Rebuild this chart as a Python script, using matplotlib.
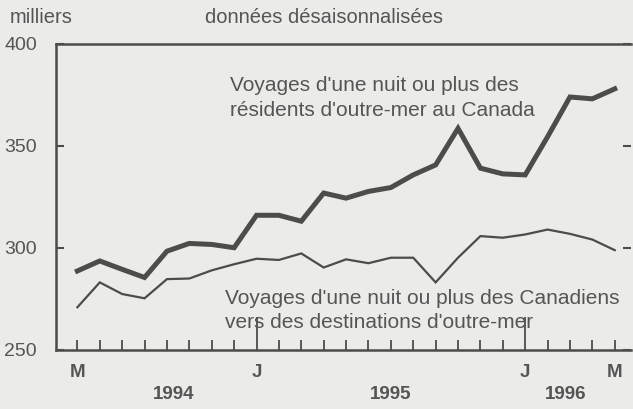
import numpy as np
import matplotlib.pyplot as plt

# monthly, May 1994 .. May 1996 (thousands, seasonally adjusted)
months = np.arange(25)
residents_outre_mer = [288.6, 293.5, 289.4, 285.4, 298.3, 302.1, 301.6, 300.0, 315.9,
                       315.9, 313.0, 326.8, 324.3, 327.6, 329.5, 335.7, 340.6, 358.5,
                       339.0, 336.2, 335.7, 354.4, 373.9, 373.0, 377.9]
canadiens_outre_mer = [270.8, 283.0, 277.3, 275.2, 284.6, 284.9, 288.9, 291.9, 294.6,
                       294.0, 297.2, 290.3, 294.3, 292.4, 295.1, 295.1, 283.0, 295.1,
                       305.7, 304.9, 306.5, 308.9, 306.8, 304.0, 298.8]
month_labels = {0: "M", 8: "J", 20: "J", 24: "M"}
years = {"1994": 4.3, "1995": 14.0, "1996": 21.8}

bg = "#ebebe9"
ink = "#4b4d49"
txt = "#555555"

plt.rcParams["font.family"] = ["Liberation Sans", "DejaVu Sans"]

fig = plt.figure(figsize=(6.33, 4.09), dpi=100, facecolor=bg)
ax = fig.add_axes([0.089, 0.145, 0.908, 0.748], facecolor=bg)

ax.plot(months, residents_outre_mer, color=ink, lw=3.6, solid_joinstyle="miter")
ax.plot(months, canadiens_outre_mer, color=ink, lw=1.6, solid_joinstyle="miter")

ax.set_xlim(-0.94, 24.73)
ax.set_ylim(250, 400)

for s in ["top", "left", "bottom"]:
    ax.spines[s].set_color(ink)
    ax.spines[s].set_linewidth(1.8)
ax.spines["right"].set_visible(False)

ax.set_yticks([250, 300, 350, 400])
ax.tick_params(axis="y", direction="in", length=6, width=1.5, color=ink,
               labelsize=14, labelcolor=txt, pad=14, right=True)

major = [m for m in months if m in (8, 20)]
minor = [m for m in months if m not in (8, 20)]
ax.set_xticks(major)
ax.set_xticks(minor, minor=True)
ax.set_xticklabels([])
ax.tick_params(axis="x", which="major", direction="in", length=24, width=1.3, color=ink)
ax.tick_params(axis="x", which="minor", direction="in", length=7, width=1.3, color=ink)

for m, lab in month_labels.items():
    ax.text(m, -0.075, lab, transform=ax.get_xaxis_transform(), ha="center", va="center",
            fontsize=13.5, color=txt, fontweight="bold")
for y, pos in years.items():
    ax.text(pos, -0.145, y, transform=ax.get_xaxis_transform(), ha="center", va="center",
            fontsize=13.5, color=txt, fontweight="bold")

ax.text(6.8, 384, "Voyages d'une nuit ou plus des\nrésidents d'outre-mer au Canada",
        fontsize=15, color=txt, va="top", ha="left", linespacing=1.35)
ax.text(6.6, 280, "Voyages d'une nuit ou plus des Canadiens\nvers des destinations d'outre-mer",
        fontsize=15, color=txt, va="top", ha="left", linespacing=1.35)

fig.text(0.016, 0.958, "milliers", fontsize=14.5, color=txt, va="center")
fig.text(0.324, 0.958, "données désaisonnalisées", fontsize=14.5, color=txt, va="center")

fig.savefig("out.png", dpi=100, facecolor=bg)
